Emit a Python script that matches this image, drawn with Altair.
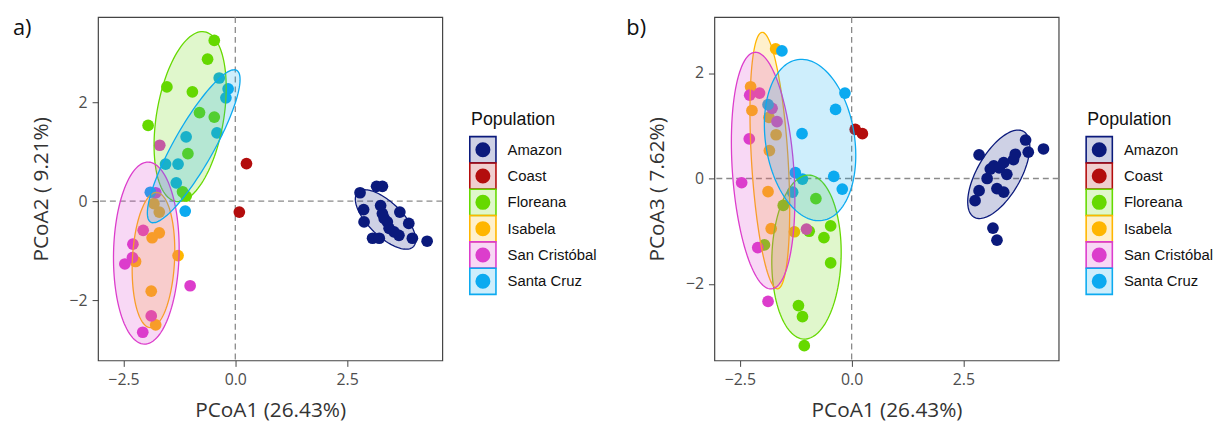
import numpy as np
import pandas as pd
import altair as alt

POPS = ["Amazon", "Coast", "Floreana", "Isabela", "San Cristóbal", "Santa Cruz"]
COLORS = ["#0b1a7c", "#b30d0d", "#66d900", "#ffb600", "#dc3dcc", "#0caaf0"]

# ---------------- Panel a) PCoA1 vs PCoA2 ----------------
a_amazon_x = [2.79, 3.16, 3.29, 2.87, 2.88, 3.25, 3.29, 3.68, 3.40, 3.44, 3.88, 3.66, 3.07, 3.22, 3.96, 4.29, 3.55, 3.33]
a_amazon_y = [0.17, 0.30, 0.30, -0.17, -0.42, -0.09, -0.25, -0.22, -0.42, -0.55, -0.45, -0.69, -0.75, -0.75, -0.75, -0.81, -0.62, -0.35]
a_coast_x = [0.25, 0.09]
a_coast_y = [0.76, -0.22]
a_floreana_x = [-0.47, -0.62, -1.53, -0.96, -1.95, -0.80, -0.47, -1.06, -1.18, -1.10]
a_floreana_y = [3.25, 2.87, 2.31, 2.21, 1.53, 1.79, 1.70, 0.96, 0.19, 0.10]
a_isabela_x = [-1.82, -1.70, -1.86, -1.70, -1.28, -2.23, -1.88, -1.78]
a_isabela_y = [-0.05, -0.22, -0.74, -0.64, -1.10, -1.22, -1.82, -2.50]
a_sancris_x = [-1.69, -1.78, -2.06, -2.29, -2.30, -2.47, -1.01, -1.88, -2.07]
a_sancris_y = [1.13, 0.17, -0.59, -0.87, -1.14, -1.27, -1.71, -2.32, -2.65]
a_santacruz_x = [-0.36, -0.16, -0.21, -0.41, -1.10, -1.56, -1.28, -1.32, -1.90, -1.12]
a_santacruz_y = [2.49, 2.27, 2.09, 1.38, 1.30, 0.75, 0.75, 0.37, 0.18, -0.20]

# ellipse parameters (centre, major semi-axis vector, minor semi-axis vector), data units
a_ell_pop = ["Amazon", "Floreana", "Isabela", "San Cristóbal", "Santa Cruz"]
a_ell_cx = [3.36, -1.01, -1.83, -1.99, -0.93]
a_ell_cy = [-0.37, 1.71, -1.19, -1.05, 1.11]
a_ell_ux = [0.622, 0.322, 0.073, 0.044, 0.962]
a_ell_uy = [-0.55, 1.714, 1.366, 1.84, 1.534]
a_ell_vx = [0.264, 0.74, 0.471, 0.733, 0.387]
a_ell_vy = [0.242, -0.113, -0.02, -0.014, -0.197]

# ---------------- Panel b) PCoA1 vs PCoA3 ----------------
b_amazon_x = [2.85, 3.89, 4.29, 3.95, 3.66, 3.62, 3.40, 3.18, 3.47, 3.03, 3.25, 3.40, 2.85, 2.76, 3.16, 3.25, 3.10, 3.30]
b_amazon_y = [0.45, 0.73, 0.56, 0.50, 0.46, 0.36, 0.30, 0.24, 0.08, 0.00, -0.19, -0.26, -0.23, -0.42, -0.94, -1.17, 0.18, 0.20]
b_coast_x = [0.08, 0.24]
b_coast_y = [0.93, 0.85]
b_floreana_x = [-0.80, -1.53, -0.95, -0.47, -0.62, -0.47, -1.95, -1.19, -1.10, -1.06]
b_floreana_y = [-0.38, -0.51, -1.00, -0.90, -1.12, -1.60, -1.26, -2.41, -2.62, -3.17]
b_isabela_x = [-1.70, -2.26, -2.23, -1.85, -1.69, -1.84, -1.87, -1.80, -1.28]
b_isabela_y = [2.46, 1.74, 1.29, 1.16, 0.83, 0.53, -0.25, -0.95, -1.01]
b_sancris_x = [-2.28, -2.06, -1.78, -1.67, -2.29, -2.46, -2.10, -1.01, -1.87]
b_sancris_y = [1.58, 1.62, 1.33, 1.08, 0.75, -0.08, -1.31, -0.96, -2.33]
b_santacruz_x = [-1.56, -0.15, -0.36, -1.87, -1.11, -1.26, -1.10, -0.40, -0.21, -1.32]
b_santacruz_y = [2.42, 1.62, 1.31, 1.40, 0.85, 0.11, -0.01, 0.04, -0.20, -0.26]

b_ell_pop = ["Amazon", "Floreana", "Isabela", "San Cristóbal", "Santa Cruz"]
b_ell_cx = [3.29, -1.01, -1.83, -1.98, -0.93]
b_ell_cy = [0.08, -1.49, 0.34, 0.15, 0.73]
b_ell_ux = [0.553, 0.055, -0.173, -0.184, -0.277]
b_ell_uy = [0.813, 1.555, 2.432, 2.244, 1.525]
b_ell_vx = [0.42, 0.774, 0.409, 0.686, 0.984]
b_ell_vy = [-0.207, -0.02, 0.021, 0.04, 0.128]

X_TITLE = "PCoA1 (26.43%)"
A_Y_TITLE = "PCoA2 ( 9.21%)"
B_Y_TITLE = "PCoA3 ( 7.62%)"
X_DOMAIN = [-3.07, 4.63]
A_Y_DOMAIN = [-3.22, 3.72]
B_Y_DOMAIN = [-3.45, 3.06]


def points_frame(groups):
    rows = []
    for pop, xs, ys in groups:
        for x, y in zip(xs, ys):
            rows.append({"pop": pop, "x": x, "y": y})
    return pd.DataFrame(rows)


def ellipse_frame(pops, cx, cy, ux, uy, vx, vy):
    t = np.linspace(0, 2 * np.pi, 121)
    frames = []
    for p, a, b, c, d, e, f in zip(pops, cx, cy, ux, uy, vx, vy):
        frames.append(pd.DataFrame({
            "pop": p,
            "i": np.arange(len(t)),
            "x": a + c * np.cos(t) + e * np.sin(t),
            "y": b + d * np.cos(t) + f * np.sin(t),
        }))
    return pd.concat(frames, ignore_index=True)


pts_a = points_frame([
    ("Amazon", a_amazon_x, a_amazon_y), ("Coast", a_coast_x, a_coast_y),
    ("Floreana", a_floreana_x, a_floreana_y), ("Isabela", a_isabela_x, a_isabela_y),
    ("San Cristóbal", a_sancris_x, a_sancris_y), ("Santa Cruz", a_santacruz_x, a_santacruz_y),
])
pts_b = points_frame([
    ("Amazon", b_amazon_x, b_amazon_y), ("Coast", b_coast_x, b_coast_y),
    ("Floreana", b_floreana_x, b_floreana_y), ("Isabela", b_isabela_x, b_isabela_y),
    ("San Cristóbal", b_sancris_x, b_sancris_y), ("Santa Cruz", b_santacruz_x, b_santacruz_y),
])
ell_a = ellipse_frame(a_ell_pop, a_ell_cx, a_ell_cy, a_ell_ux, a_ell_uy, a_ell_vx, a_ell_vy)
ell_b = ellipse_frame(b_ell_pop, b_ell_cx, b_ell_cy, b_ell_ux, b_ell_uy, b_ell_vx, b_ell_vy)

cscale = alt.Scale(domain=POPS, range=COLORS)
PW, PH = 348, 347


def panel(pts, ell, ytitle, ydom, label, label_dx):
    xsc = alt.Scale(domain=X_DOMAIN, nice=False, zero=False)
    ysc = alt.Scale(domain=ydom, nice=False, zero=False)
    xax = alt.Axis(values=[-2.5, 0, 2.5], format=".1f", title=X_TITLE, titlePadding=13)
    yax = alt.Axis(values=[-2, 0, 2], format="d", title=ytitle, titlePadding=18)
    zero = pd.DataFrame({"z": [0.0]})
    vrule = alt.Chart(zero).mark_rule(strokeDash=[6, 4], color="#8a8a8a", strokeWidth=1.3).encode(
        x=alt.X("z:Q", scale=xsc, axis=xax))
    hrule = alt.Chart(zero).mark_rule(strokeDash=[6, 4], color="#8a8a8a", strokeWidth=1.3).encode(
        y=alt.Y("z:Q", scale=ysc, axis=yax))
    dots = alt.Chart(pts).mark_circle(size=140, opacity=1).encode(
        x=alt.X("x:Q", scale=xsc, axis=xax),
        y=alt.Y("y:Q", scale=ysc, axis=yax),
        color=alt.Color("pop:N", scale=cscale, legend=None),
    )
    ells = alt.Chart(ell).mark_line(strokeWidth=1.3, fillOpacity=0.2).encode(
        x=alt.X("x:Q", scale=xsc, axis=xax),
        y=alt.Y("y:Q", scale=ysc, axis=yax),
        order="i:Q",
        stroke=alt.Stroke("pop:N", scale=cscale, legend=None),
        fill=alt.Fill("pop:N", scale=cscale, legend=None),
    )
    lab = alt.Chart(pd.DataFrame({"t": [label]})).mark_text(
        align="left", baseline="top", fontSize=22, font="Open Sans", color="#111").encode(
        text="t:N", x=alt.value(label_dx), y=alt.value(1))
    return alt.layer(vrule, hrule, dots, ells, lab).properties(
        width=PW, height=PH, view=alt.ViewBackground(stroke="#444", strokeWidth=1.2))


def legend(width):
    df = pd.DataFrame({"pop": POPS})
    ysc = alt.Scale(type="point", domain=POPS, range=[134, 267], padding=0)
    y = alt.Y("pop:N", scale=ysc, axis=None)
    sq = alt.Chart(df).mark_square(size=700, fillOpacity=0.2, strokeWidth=1.6, opacity=1).encode(
        x=alt.value(14), y=y,
        fill=alt.Fill("pop:N", scale=cscale, legend=None),
        stroke=alt.Stroke("pop:N", scale=cscale, legend=None))
    dot = alt.Chart(df).mark_circle(size=230, opacity=1).encode(
        x=alt.value(14), y=y, color=alt.Color("pop:N", scale=cscale, legend=None))
    txt = alt.Chart(df).mark_text(align="left", baseline="middle", fontSize=15,
                                  font="Liberation Sans", color="#111").encode(
        x=alt.value(39), y=y, text="pop:N")
    ttl = alt.Chart(pd.DataFrame({"t": ["Population"]})).mark_text(
        align="left", baseline="middle", fontSize=18, font="Liberation Sans", color="#111").encode(
        x=alt.value(2), y=alt.value(104), text="t:N")
    return alt.layer(sq, dot, txt, ttl).properties(
        width=width, height=PH, view=alt.ViewBackground(strokeOpacity=0, fillOpacity=0))


chart = alt.hconcat(
    panel(pts_a, ell_a, A_Y_TITLE, A_Y_DOMAIN, "a)", -86),
    legend(136),
    panel(pts_b, ell_b, B_Y_TITLE, B_Y_DOMAIN, "b)", -89),
    legend(122),
    spacing=22,
).properties(
    padding={"left": 4, "top": 5, "right": 0, "bottom": 0}
).configure_axis(
    labelFont="Open Sans", labelFontSize=16, labelColor="#4d4d4d",
    titleFont="Open Sans", titleFontSize=21, titleFontWeight="normal", titleColor="#333",
    tickColor="#444", tickSize=6, labelPadding=5, domain=False, grid=False,
)

chart.save("out.html", embed_options={"renderer": "svg", "actions": False})
